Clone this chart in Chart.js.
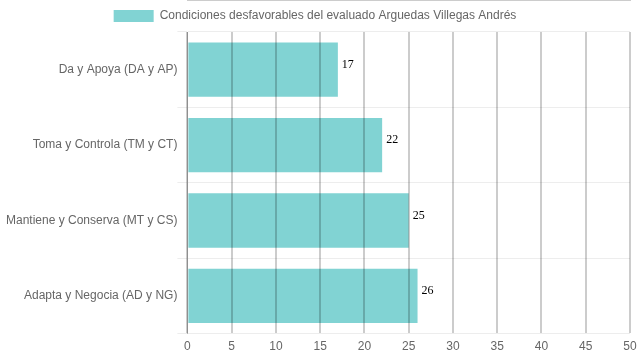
<!DOCTYPE html>
<html>
<head>
<meta charset="utf-8">
<script src="https://cdn.jsdelivr.net/npm/chart.js@4/dist/chart.umd.min.js"></script>
<style>
html,body{margin:0;padding:0;background:#fff;}
#wrap{width:639px;height:360px;}
</style>
</head>
<body>
<div id="wrap"><canvas id="c" width="639" height="360"></canvas></div>
<script>
const categories = ["Da y Apoya (DA y AP)", "Toma y Controla (TM y CT)", "Mantiene y Conserva (MT y CS)", "Adapta y Negocia (AD y NG)"];
const seriesLabel = "Condiciones desfavorables del evaluado Arguedas Villegas Andrés";
const values = [17, 22, 25, 26];
const xTicks = [0, 5, 10, 15, 20, 25, 30, 35, 40, 45, 50];

const valueLabels = {
  id: 'valueLabels',
  afterDatasetsDraw(chart) {
    const ctx = chart.ctx;
    const meta = chart.getDatasetMeta(0);
    ctx.save();
    ctx.font = "12px 'Liberation Serif', 'Times New Roman', serif";
    ctx.fillStyle = '#000';
    ctx.textAlign = 'left';
    ctx.textBaseline = 'alphabetic';
    meta.data.forEach((bar, i) => {
      ctx.fillText(String(values[i]), bar.x + 4, bar.y - 2);
    });
    ctx.restore();
  }
};

Chart.defaults.font.family = "'Liberation Sans', Arial, sans-serif";
Chart.defaults.font.size = 12;
Chart.defaults.color = '#666';

new Chart(document.getElementById('c'), {
  type: 'bar',
  data: {
    labels: categories,
    datasets: [{
      label: seriesLabel,
      data: values,
      backgroundColor: 'rgba(75,192,192,0.7)',
      borderColor: 'rgba(75,192,192,0.7)',
      borderWidth: 0,
      categoryPercentage: 0.8,
      barPercentage: 0.9
    }]
  },
  options: {
    indexAxis: 'y',
    responsive: false,
    animation: false,
    layout: { padding: { left: 0, right: 9 } },
    plugins: {
      legend: {
        display: true,
        position: 'top',
        labels: { boxWidth: 40, boxHeight: 12, color: '#666', font: { size: 12 } }
      },
      tooltip: { enabled: false }
    },
    scales: {
      x: {
        min: 0,
        max: 50,
        afterBuildTicks(scale) { scale.ticks = xTicks.map(v => ({ value: v })); },
        afterFit(scale) { scale.paddingRight = 0; },
        grid: { color: 'rgba(0,0,0,0.2)', lineWidth: 2, drawTicks: false, z: 1 },
        border: { color: 'rgba(0,0,0,0.4)', width: 1 },
        ticks: { padding: 6, color: '#666' }
      },
      y: {
        afterFit(scale) { scale.width += 6; },
        grid: { color: 'rgba(0,0,0,0.07)', offset: true, tickLength: 10 },
        border: { color: 'rgba(0,0,0,0.3)' },
        ticks: { padding: 0, color: '#666' }
      }
    }
  },
  plugins: [valueLabels]
});
</script>
</body>
</html>
